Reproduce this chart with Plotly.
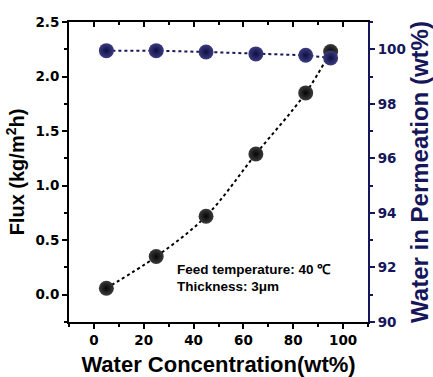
import plotly.graph_objects as go

water_conc = [5, 25, 45, 65, 85, 95]
flux = [0.06, 0.35, 0.72, 1.29, 1.85, 2.23]
water_perm = [99.95, 99.95, 99.9, 99.83, 99.78, 99.68]

x_ticks = [0, 20, 40, 60, 80, 100]
y_ticks = [0.0, 0.5, 1.0, 1.5, 2.0, 2.5]
y2_ticks = [90, 92, 94, 96, 98, 100]

NAVY = "#16165a"
FONT = "Liberation Sans"
TICKFONT = "DejaVu Sans"

fig = go.Figure()
fig.add_trace(go.Scatter(
    x=water_conc, y=flux, mode="lines+markers",
    line=dict(color="black", width=2, dash="dot", shape="spline"),
    marker=dict(size=15, color="#3c3c3c",
                gradient=dict(type="radial", color="#050505"),
                line=dict(width=0)),
    yaxis="y", showlegend=False))
fig.add_trace(go.Scatter(
    x=water_conc, y=water_perm, mode="lines+markers",
    line=dict(color=NAVY, width=2, dash="dot"),
    marker=dict(size=15, color="#3c3c80",
                gradient=dict(type="radial", color="#0e0e44"),
                line=dict(width=0)),
    yaxis="y2", showlegend=False))

# invisible trace to anchor top axis
fig.add_trace(go.Scatter(x=[None], y=[None], xaxis="x2", yaxis="y", showlegend=False))

fig.update_layout(
    width=433, height=377,
    margin=dict(l=69, r=65, t=22, b=55),
    paper_bgcolor="white", plot_bgcolor="white",
    font=dict(family=FONT),
    xaxis=dict(
        range=[-10, 110], tickvals=x_ticks, ticktext=[str(v) for v in x_ticks],
        showgrid=False, zeroline=False, showline=True, linecolor="black", linewidth=2,
        ticks="outside", ticklen=5, tickwidth=1.5, tickcolor="black", automargin=False,
        minor=dict(tickvals=[-10, 10, 30, 50, 70, 90, 110], ticks="outside", ticklen=3, tickwidth=1.5, tickcolor="black"),
        tickfont=dict(family=TICKFONT, size=13.5, color="black", weight="bold"),
        title=dict(text="<b>Water Concentration(wt%)</b>", font=dict(family=FONT, size=22, color="black"), standoff=16),
    ),
    xaxis2=dict(
        range=[-10, 110], overlaying="x", side="top", anchor="y",
        tickvals=x_ticks, showticklabels=False, automargin=False,
        showgrid=False, zeroline=False, showline=True, linecolor="black", linewidth=2,
        ticks="inside", ticklen=5, tickwidth=1.5, tickcolor="black",
        minor=dict(tickvals=[10, 30, 50, 70, 90], ticks="inside", ticklen=3, tickwidth=1.5, tickcolor="black"),
    ),
    yaxis=dict(
        range=[-0.25, 2.5], tickvals=y_ticks, ticktext=[f"{v:.1f}" for v in y_ticks],
        showgrid=False, zeroline=False, showline=True, linecolor="black", linewidth=2,
        ticks="outside", ticklen=5, tickwidth=1.5, tickcolor="black", automargin=False,
        minor=dict(tickvals=[-0.25, 0.25, 0.75, 1.25, 1.75, 2.25], ticks="outside", ticklen=3, tickwidth=1.5, tickcolor="black"),
        tickfont=dict(family=TICKFONT, size=13.5, color="black", weight="bold"),
        title=dict(text="<b>Flux (kg/m<sup>2</sup>h)</b>", font=dict(family=FONT, size=20, color="black"), standoff=5),
    ),
    yaxis2=dict(
        range=[90, 101], overlaying="y", side="right", anchor="x",
        tickvals=y2_ticks, ticktext=[str(v) for v in y2_ticks],
        showgrid=False, zeroline=False, showline=True, linecolor=NAVY, linewidth=2,
        ticks="outside", ticklen=5, tickwidth=1.5, tickcolor=NAVY, automargin=False,
        minor=dict(tickvals=[91, 93, 95, 97, 99, 101], ticks="outside", ticklen=3, tickwidth=1.5, tickcolor=NAVY),
        tickfont=dict(family=TICKFONT, size=13.5, color=NAVY, weight="bold"),
        title=dict(text="<b>Water in Permeation (wt%)</b>", font=dict(family=FONT, size=24, color=NAVY), standoff=14),
    ),
    annotations=[
        dict(xref="paper", yref="paper", x=0.355, y=0.175, xanchor="left", yanchor="middle",
             text="<b>Feed temperature: 40 ℃</b>", showarrow=False,
             font=dict(family=FONT, size=13.5, color="black")),
        dict(xref="paper", yref="paper", x=0.355, y=0.118, xanchor="left", yanchor="middle",
             text="<b>Thickness: 3μm</b>", showarrow=False,
             font=dict(family=FONT, size=13.5, color="black")),
    ],
)

fig.write_html("out.html")
